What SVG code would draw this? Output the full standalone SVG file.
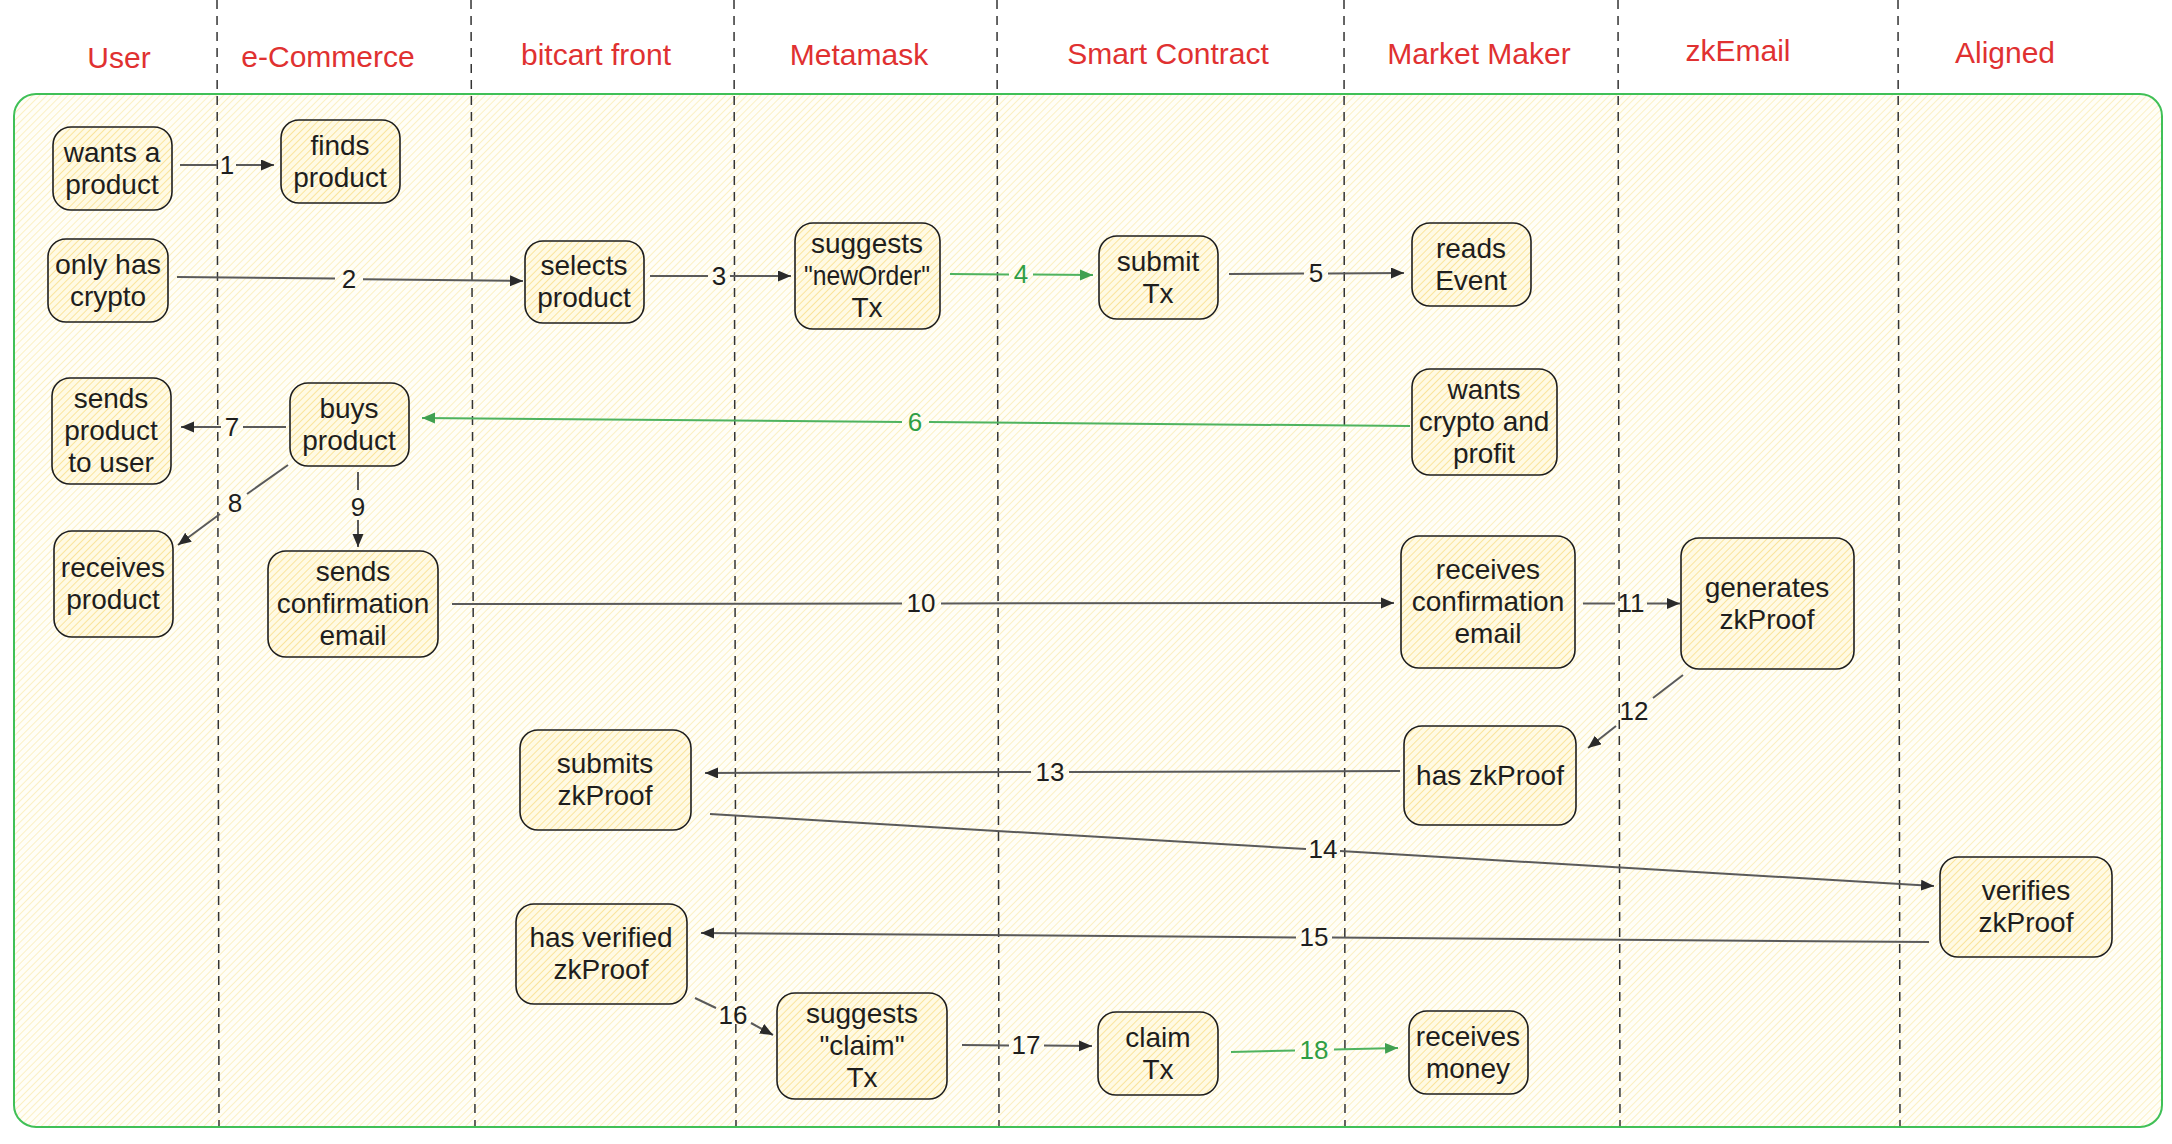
<svg xmlns="http://www.w3.org/2000/svg" width="2172" height="1144" viewBox="0 0 2172 1144">
<style>
.t{font-family:"Liberation Sans",Arial,sans-serif;font-size:28px;fill:#1e1e1e;text-anchor:middle}
.h{font-family:"Liberation Sans",Arial,sans-serif;font-size:30px;fill:#e03131;text-anchor:middle}
.l{font-family:"Liberation Sans",Arial,sans-serif;font-size:26px;fill:#1e1e1e;text-anchor:middle}
.lg{fill:#2f9e44}
.box{fill:url(#nodeFill);stroke:#1e1e1e;stroke-width:1.6}
.lane{stroke:#333;stroke-width:1.5;stroke-dasharray:9 7;fill:none}
.c{stroke:#5a5a5a;stroke-width:2;fill:none}
.cg{stroke:#4fb35f;stroke-width:2;fill:none}
.a{marker-end:url(#ah)}
.ag{marker-end:url(#ahg)}
</style>
<defs>
<pattern id="frameFill" patternUnits="userSpaceOnUse" width="5" height="5" patternTransform="rotate(45)">
<rect width="5" height="5" fill="#fffef7"/>
<line x1="0" y1="0" x2="0" y2="5" stroke="#fbf0c4" stroke-width="2"/>
</pattern>
<pattern id="nodeFill" patternUnits="userSpaceOnUse" width="5" height="5" patternTransform="rotate(45)">
<rect width="5" height="5" fill="#fffae4"/>
<line x1="0" y1="0" x2="0" y2="5" stroke="#fae49c" stroke-width="2"/>
</pattern>
<marker id="ah" markerUnits="userSpaceOnUse" markerWidth="14" markerHeight="12" refX="13" refY="5.5" orient="auto">
<path d="M0,0 L13,5.5 L0,11 z" fill="#2a2a2a"/>
</marker>
<marker id="ahg" markerUnits="userSpaceOnUse" markerWidth="14" markerHeight="12" refX="13" refY="5.5" orient="auto">
<path d="M0,0 L13,5.5 L0,11 z" fill="#40a050"/>
</marker>
</defs>
<rect width="2172" height="1144" fill="#ffffff"/>
<rect id="frame" x="14" y="94" width="2148" height="1033" rx="22" fill="url(#frameFill)" stroke="#40c057" stroke-width="2"/>
<g id="lanes">
<line class="lane" x1="217" y1="0" x2="219" y2="1126"/>
<line class="lane" x1="471" y1="0" x2="475" y2="1126"/>
<line class="lane" x1="734" y1="0" x2="736" y2="1126"/>
<line class="lane" x1="997" y1="0" x2="999" y2="1126"/>
<line class="lane" x1="1344" y1="0" x2="1345" y2="1126"/>
<line class="lane" x1="1618" y1="0" x2="1620" y2="1126"/>
<line class="lane" x1="1898" y1="0" x2="1900" y2="1126"/>
</g>
<g id="headers">
<text class="h" x="119" y="68">User</text>
<text class="h" x="328" y="67">e-Commerce</text>
<text class="h" x="596" y="65">bitcart front</text>
<text class="h" x="859" y="65">Metamask</text>
<text class="h" x="1168" y="64">Smart Contract</text>
<text class="h" x="1479" y="64">Market Maker</text>
<text class="h" x="1738" y="61">zkEmail</text>
<text class="h" x="2005" y="63">Aligned</text>
</g>
<g id="connectors">
<line class="c" x1="180" y1="165" x2="217" y2="165"/><line class="c a" x1="236" y1="165" x2="274" y2="165"/><text class="l" x="227" y="174">1</text>
<line class="c" x1="177" y1="277" x2="335" y2="278.5"/><line class="c a" x1="363" y1="279.3" x2="523" y2="281"/><text class="l" x="349" y="288">2</text>
<line class="c" x1="650" y1="276" x2="708" y2="276"/><line class="c a" x1="730" y1="276" x2="791" y2="276"/><text class="l" x="719" y="285">3</text>
<line class="cg" x1="950" y1="274" x2="1009" y2="274.4"/><line class="cg ag" x1="1033" y1="274.6" x2="1093" y2="275"/><text class="l lg" x="1021" y="283">4</text>
<line class="c" x1="1229" y1="274" x2="1304" y2="273.5"/><line class="c a" x1="1328" y1="273.4" x2="1404" y2="273"/><text class="l" x="1316" y="282">5</text>
<line class="cg" x1="1410" y1="426" x2="929" y2="422.1"/><line class="cg ag" x1="902" y1="421.9" x2="422" y2="418"/><text class="l lg" x="915" y="431">6</text>
<line class="c" x1="286" y1="427" x2="243" y2="427"/><line class="c a" x1="221" y1="427" x2="181" y2="427"/><text class="l" x="232" y="436">7</text>
<line class="c" x1="288" y1="465" x2="247" y2="494"/><line class="c a" x1="220" y1="514" x2="178" y2="545"/><text class="l" x="235" y="512">8</text>
<line class="c" x1="358" y1="472" x2="358" y2="490"/><line class="c a" x1="358" y1="520" x2="358" y2="547"/><text class="l" x="358" y="516">9</text>
<line class="c" x1="452" y1="604" x2="902" y2="603.5"/><line class="c a" x1="941" y1="603.4" x2="1394" y2="603"/><text class="l" x="921" y="612">10</text>
<line class="c" x1="1583" y1="603.5" x2="1615" y2="603.5"/><line class="c a" x1="1647" y1="603.5" x2="1680" y2="603.5"/><text class="l" x="1631" y="612">11</text>
<line class="c" x1="1683" y1="675" x2="1653" y2="698"/><line class="c a" x1="1616" y1="726" x2="1588" y2="748"/><text class="l" x="1634" y="720">12</text>
<line class="c" x1="1400" y1="771" x2="1069" y2="772"/><line class="c a" x1="1031" y1="772" x2="705" y2="773"/><text class="l" x="1050" y="781">13</text>
<line class="c" x1="710" y1="814" x2="1306" y2="849.1"/><line class="c a" x1="1340" y1="851" x2="1934" y2="886"/><text class="l" x="1323" y="858">14</text>
<line class="c" x1="1929" y1="942" x2="1332" y2="937.6"/><line class="c a" x1="1296" y1="937.4" x2="701" y2="933"/><text class="l" x="1314" y="946">15</text>
<line class="c" x1="695" y1="998" x2="716" y2="1008"/><line class="c a" x1="751" y1="1023" x2="773" y2="1035"/><text class="l" x="733" y="1024">16</text>
<line class="c" x1="962" y1="1045" x2="1009" y2="1045.4"/><line class="c a" x1="1044" y1="1045.6" x2="1092" y2="1046"/><text class="l" x="1026" y="1054">17</text>
<line class="cg" x1="1231" y1="1052" x2="1295" y2="1050.4"/><line class="cg ag" x1="1334" y1="1049.6" x2="1398" y2="1048"/><text class="l lg" x="1314" y="1059">18</text>
</g>
<g id="n1"><rect class="box" x="53" y="127" width="119" height="83" rx="18"/><text class="t" x="112" y="162">wants a</text><text class="t" x="112" y="194">product</text></g>
<g id="n2"><rect class="box" x="281" y="120" width="119" height="83" rx="18"/><text class="t" x="340" y="155">finds</text><text class="t" x="340" y="187">product</text></g>
<g id="n3"><rect class="box" x="48" y="239" width="120" height="83" rx="18"/><text class="t" x="108" y="274" textLength="106" lengthAdjust="spacingAndGlyphs">only has</text><text class="t" x="108" y="306">crypto</text></g>
<g id="n4"><rect class="box" x="525" y="241" width="119" height="82" rx="18"/><text class="t" x="584" y="275">selects</text><text class="t" x="584" y="307">product</text></g>
<g id="n5"><rect class="box" x="795" y="223" width="145" height="106" rx="18"/><text class="t" x="867" y="253">suggests</text><text class="t" x="867" y="285" textLength="126" lengthAdjust="spacingAndGlyphs">"newOrder"</text><text class="t" x="867" y="317">Tx</text></g>
<g id="n6"><rect class="box" x="1099" y="236" width="119" height="83" rx="18"/><text class="t" x="1158" y="271">submit</text><text class="t" x="1158" y="303">Tx</text></g>
<g id="n7"><rect class="box" x="1412" y="223" width="119" height="83" rx="18"/><text class="t" x="1471" y="258">reads</text><text class="t" x="1471" y="290">Event</text></g>
<g id="n8"><rect class="box" x="52" y="378" width="119" height="106" rx="18"/><text class="t" x="111" y="408">sends</text><text class="t" x="111" y="440">product</text><text class="t" x="111" y="472">to user</text></g>
<g id="n9"><rect class="box" x="290" y="383" width="119" height="83" rx="18"/><text class="t" x="349" y="418">buys</text><text class="t" x="349" y="450">product</text></g>
<g id="n10"><rect class="box" x="1412" y="369" width="145" height="106" rx="18"/><text class="t" x="1484" y="399">wants</text><text class="t" x="1484" y="431">crypto and</text><text class="t" x="1484" y="463">profit</text></g>
<g id="n11"><rect class="box" x="54" y="531" width="119" height="106" rx="18"/><text class="t" x="113" y="577">receives</text><text class="t" x="113" y="609">product</text></g>
<g id="n12"><rect class="box" x="268" y="551" width="170" height="106" rx="18"/><text class="t" x="353" y="581">sends</text><text class="t" x="353" y="613">confirmation</text><text class="t" x="353" y="645">email</text></g>
<g id="n13"><rect class="box" x="1401" y="536" width="174" height="132" rx="18"/><text class="t" x="1488" y="579">receives</text><text class="t" x="1488" y="611">confirmation</text><text class="t" x="1488" y="643">email</text></g>
<g id="n14"><rect class="box" x="1681" y="538" width="173" height="131" rx="18"/><text class="t" x="1767" y="597">generates</text><text class="t" x="1767" y="629">zkProof</text></g>
<g id="n15"><rect class="box" x="1404" y="726" width="172" height="99" rx="18"/><text class="t" x="1490" y="785">has zkProof</text></g>
<g id="n16"><rect class="box" x="520" y="730" width="171" height="100" rx="18"/><text class="t" x="605" y="773">submits</text><text class="t" x="605" y="805">zkProof</text></g>
<g id="n17"><rect class="box" x="1940" y="857" width="172" height="100" rx="18"/><text class="t" x="2026" y="900">verifies</text><text class="t" x="2026" y="932">zkProof</text></g>
<g id="n18"><rect class="box" x="516" y="904" width="171" height="100" rx="18"/><text class="t" x="601" y="947">has verified</text><text class="t" x="601" y="979">zkProof</text></g>
<g id="n19"><rect class="box" x="777" y="993" width="170" height="106" rx="18"/><text class="t" x="862" y="1023">suggests</text><text class="t" x="862" y="1055">"claim"</text><text class="t" x="862" y="1087">Tx</text></g>
<g id="n20"><rect class="box" x="1098" y="1012" width="120" height="83" rx="18"/><text class="t" x="1158" y="1047">claim</text><text class="t" x="1158" y="1079">Tx</text></g>
<g id="n21"><rect class="box" x="1409" y="1011" width="119" height="83" rx="18"/><text class="t" x="1468" y="1046">receives</text><text class="t" x="1468" y="1078">money</text></g>
</svg>
